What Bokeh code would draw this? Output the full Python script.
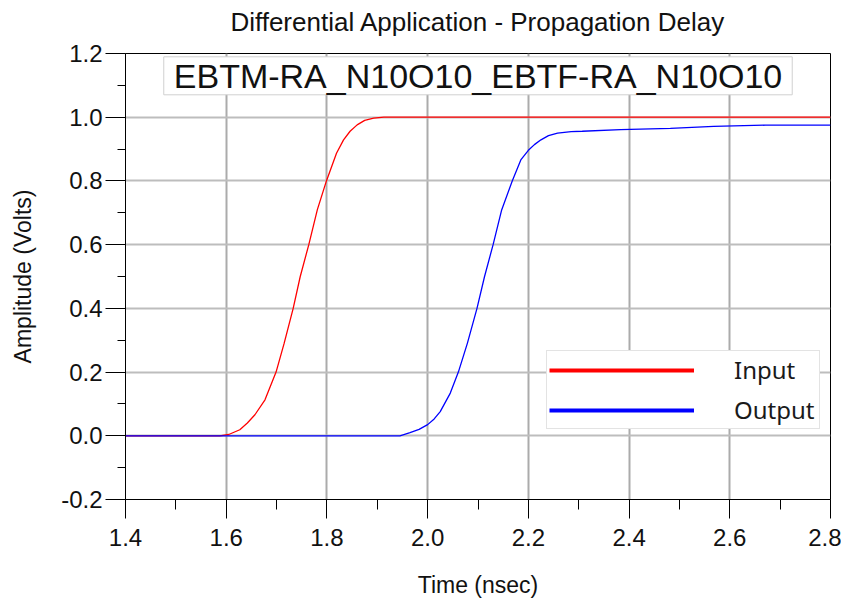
from bokeh.plotting import figure
from bokeh.models import Label, Legend, LegendItem, FixedTicker, PrintfTickFormatter, Title
from bokeh.embed import file_html
from bokeh.resources import INLINE

# ---- data ----
input_t = [1.40, 1.587, 1.605, 1.627, 1.642, 1.657, 1.677, 1.699, 1.715, 1.733, 1.747,
           1.764, 1.781, 1.799, 1.819, 1.833, 1.846, 1.860, 1.875, 1.893, 1.913, 2.80]
input_v = [0.0, 0.0, 0.004, 0.019, 0.040, 0.066, 0.113, 0.200, 0.290, 0.400, 0.500,
           0.600, 0.710, 0.800, 0.887, 0.929, 0.956, 0.976, 0.990, 0.997, 1.0, 1.0]

output_t = [1.40, 1.945, 1.965, 1.983, 2.000, 2.013, 2.025, 2.045, 2.061, 2.079, 2.098,
            2.113, 2.130, 2.147, 2.168, 2.185, 2.200, 2.212, 2.225, 2.240, 2.258, 2.285, 2.307,
            2.383, 2.482, 2.568, 2.671, 2.80]
output_v = [0.0, 0.0, 0.010, 0.020, 0.035, 0.053, 0.076, 0.134, 0.200, 0.291, 0.400,
            0.500, 0.600, 0.709, 0.800, 0.866, 0.896, 0.914, 0.929, 0.942, 0.950, 0.955, 0.956,
            0.961, 0.965, 0.971, 0.975, 0.975]

x_ticks = [1.4, 1.6, 1.8, 2.0, 2.2, 2.4, 2.6, 2.8]
y_ticks = [-0.2, 0.0, 0.2, 0.4, 0.6, 0.8, 1.0, 1.2]
series_names = ["Input", "Output"]
series_colors = ["#ff0000", "#0000ff"]
title_text = "Differential Application - Propagation Delay"
box_text = "EBTM-RA_N10O10_EBTF-RA_N10O10"

FONT = "Liberation Sans"
NAN = float("nan")

p = figure(width=841, height=605, x_range=(1.4, 2.8), y_range=(-0.2, 1.2),
           output_backend="svg", toolbar_location=None,
           min_border_left=125, min_border_right=11, min_border_top=53, min_border_bottom=106)

# spacer panel between frame and title, then the title itself (stacked outward)
p.add_layout(Title(text=" ", text_font_size="1px", standoff=9), "above")
p.add_layout(Title(text=title_text, align="center", text_font=FONT, text_font_size="26px",
                   text_font_style="normal", text_color="#111111", standoff=9), "above")

p.outline_line_color = "black"
p.outline_line_width = 1
p.background_fill_color = "white"
p.border_fill_color = "white"

# axes
p.xaxis.ticker = FixedTicker(ticks=x_ticks, minor_ticks=[1.5, 1.7, 1.9, 2.1, 2.3, 2.5, 2.7])
p.yaxis.ticker = FixedTicker(ticks=y_ticks, minor_ticks=[-0.1, 0.1, 0.3, 0.5, 0.7, 0.9, 1.1])
p.xaxis.formatter = PrintfTickFormatter(format="%.1f")
p.yaxis.formatter = PrintfTickFormatter(format="%.1f")

for ax in (p.xaxis, p.yaxis):
    ax.axis_line_color = "black"
    ax.major_tick_line_color = "black"
    ax.minor_tick_line_color = "black"
    ax.major_tick_in = 0
    ax.minor_tick_in = 0
    ax.major_label_text_font = FONT
    ax.major_label_text_font_size = "24px"
    ax.major_label_text_color = "#111111"
    ax.axis_label_text_font = FONT
    ax.axis_label_text_font_size = "23px"
    ax.axis_label_text_font_style = "normal"
    ax.axis_label_text_color = "#111111"

p.xaxis.major_tick_out = 19
p.xaxis.minor_tick_out = 10
p.yaxis.major_tick_out = 20
p.yaxis.minor_tick_out = 8
p.xaxis.major_label_standoff = 10
p.yaxis.major_label_standoff = 3
p.xaxis.axis_label = "Time (nsec)"
p.yaxis.axis_label = "Amplitude (Volts)"
p.xaxis.axis_label_standoff = 23
p.yaxis.axis_label_standoff = 22

p.xgrid.ticker = FixedTicker(ticks=x_ticks)
p.ygrid.ticker = FixedTicker(ticks=y_ticks)
p.xgrid.grid_line_color = "#ababab"
p.ygrid.grid_line_color = "#bdbdbd"
p.xgrid.grid_line_width = 2
p.ygrid.grid_line_width = 2

# curves (input first so output lies on top along 0 V)
p.line(input_t, input_v, line_color=series_colors[0], line_width=1.3)
p.line(output_t, output_v, line_color=series_colors[1], line_width=1.3)

# legend proxies (thicker lines as in the reference legend); NaN data draws nothing in the plot
r_in = p.line([NAN], [NAN], line_color=series_colors[0], line_width=4)
r_out = p.line([NAN], [NAN], line_color=series_colors[1], line_width=4)

legend = Legend(items=[LegendItem(label=series_names[0], renderers=[r_in]),
                       LegendItem(label=series_names[1], renderers=[r_out])],
                location=(421, 70), orientation="vertical",
                glyph_width=145, glyph_height=20, label_standoff=40, label_width=83,
                padding=2, spacing=7, margin=0,
                label_text_font="Noto Sans", label_text_font_size="24px",
                label_text_color="#1a1a1a",
                border_line_color="#c8c8c8", border_line_width=1,
                background_fill_color="white", background_fill_alpha=1.0)
p.add_layout(legend, "center")

# annotation box
lab = Label(x=2.1, y=1.13, text=box_text, text_align="center", text_baseline="middle",
            text_font=FONT, text_font_size="34px", text_color="#111111",
            border_line_color="#d0d0d0", border_line_width=1,
            background_fill_color="white", background_fill_alpha=1.0,
            padding=dict(left=10, right=10, top=0, bottom=0))
p.add_layout(lab)

open("out.html", "w").write(file_html(p, INLINE))
